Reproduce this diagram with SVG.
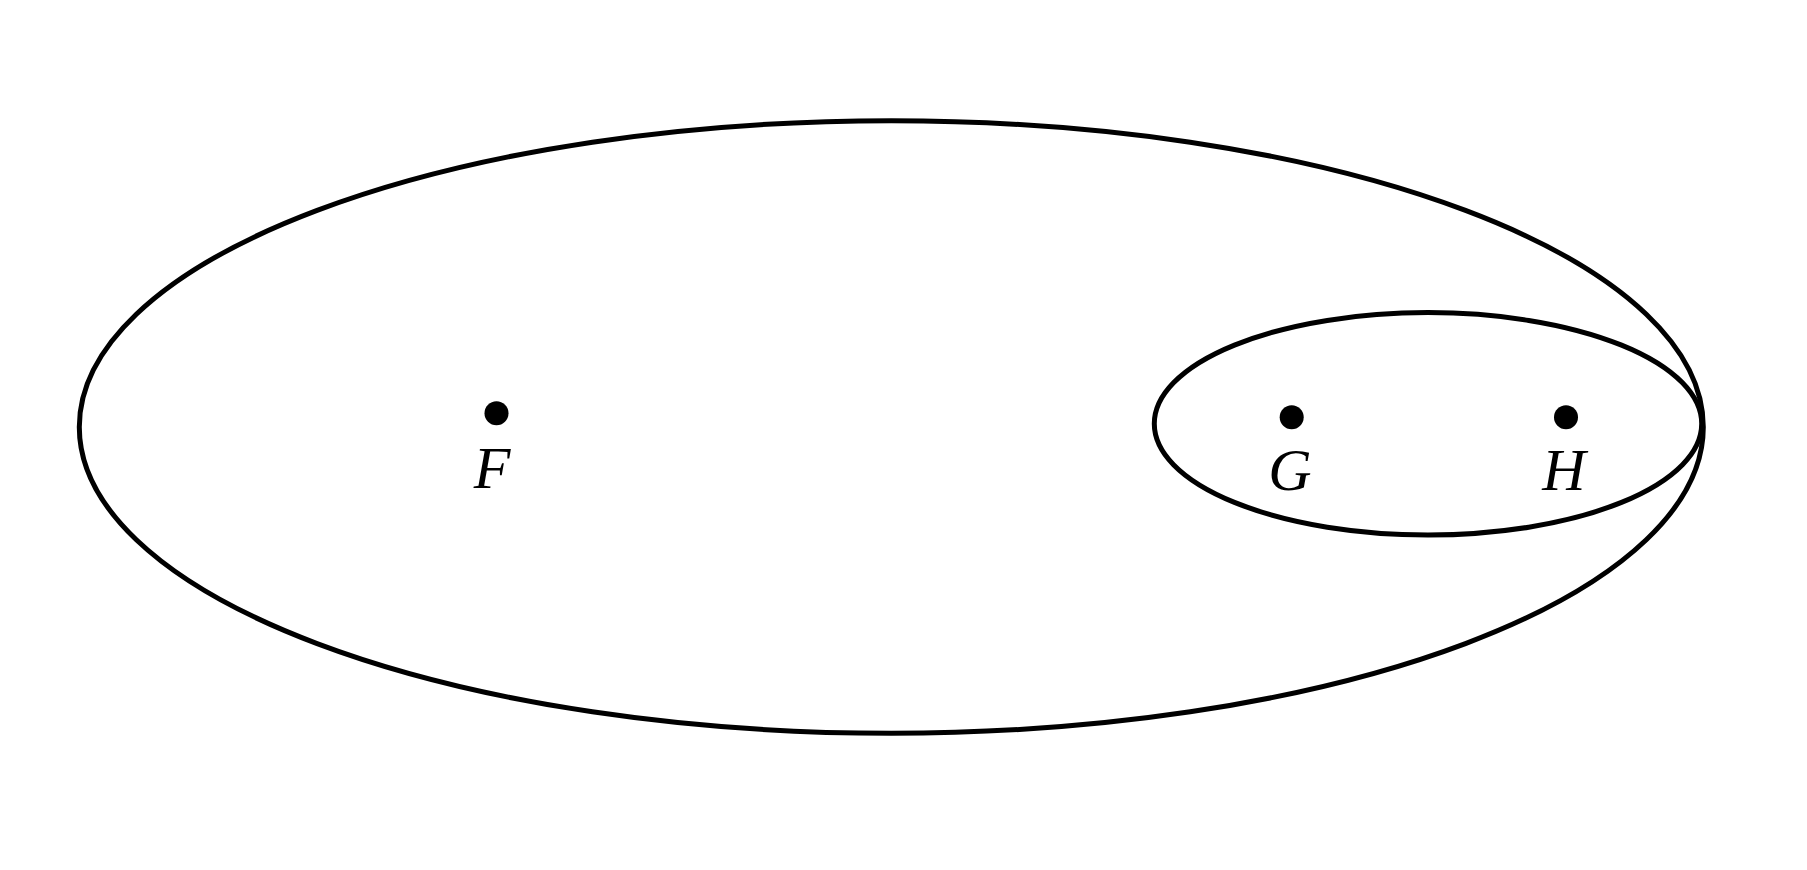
<svg xmlns="http://www.w3.org/2000/svg" width="1807" height="870" viewBox="0 0 1807 870">
<style>
.set{fill:none;stroke:#000;stroke-width:5}
.pt{fill:#000}
.lbl{font-family:"Liberation Serif","Times New Roman",serif;font-style:italic;font-size:60px;fill:#000;text-anchor:middle}
</style>
<rect width="1807" height="870" fill="#fff"/>
<g id="outer"><ellipse class="set" cx="891.3" cy="427" rx="812" ry="306.3"/></g>
<g id="inner"><ellipse class="set" cx="1428" cy="423.8" rx="273.7" ry="111.2"/></g>
<g id="F"><circle class="pt" cx="496.5" cy="413.3" r="12"/><text class="lbl" x="492" y="488">F</text></g>
<g id="G"><circle class="pt" cx="1291.7" cy="417.3" r="12"/><text class="lbl" x="1290" y="490">G</text></g>
<g id="H"><circle class="pt" cx="1566" cy="417.3" r="12"/><text class="lbl" x="1564" y="490">H</text></g>
<g id="connectors"/>
</svg>
